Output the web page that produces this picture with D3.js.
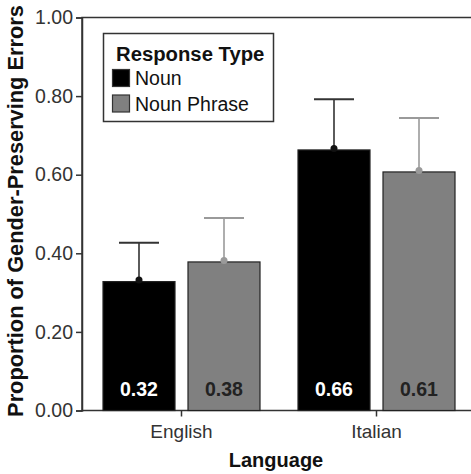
<!DOCTYPE html>
<html>
<head>
<meta charset="utf-8">
<script src="https://cdn.jsdelivr.net/npm/d3@7"></script>
<style>
  body { margin: 0; background: #fff; }
  text { font-family: "Liberation Sans", Arial, sans-serif; }
</style>
</head>
<body>
<div id="root"></div>
<script>
let languages = ['English', 'Italian']
let responseTypes = ['Noun', 'Noun Phrase']
let nounMeans = [0.328, 0.663]
let phraseMeans = [0.378, 0.607]
let nounUpper = [0.427, 0.792]
let phraseUpper = [0.490, 0.744]
let valueLabels = [['0.32', '0.66'], ['0.38', '0.61']]
let yTicks = [0, 0.2, 0.4, 0.6, 0.8, 1.0]

let fills = ['#000000', '#808080']
let errColors = ['#333333', '#9a9a9a']
let labelColors = ['#ffffff', '#222222']

let W = 471, H = 474
let plotLeft = 82, plotTop = 17.5, plotBottom = 410.5

document.getElementById('root').innerHTML = `<svg width=${W} height=${H}></svg>`
let svg = d3.select('svg')

let rows = []
languages.forEach((lang, i) => {
  rows.push({lang, type: responseTypes[0], s: 0, mean: nounMeans[i], up: nounUpper[i], label: valueLabels[0][i]})
  rows.push({lang, type: responseTypes[1], s: 1, mean: phraseMeans[i], up: phraseUpper[i], label: valueLabels[1][i]})
})

let x0 = d3.scaleBand().domain(languages).range([84, 474])
let x1 = d3.scaleBand().domain(responseTypes).range([0, x0.bandwidth()])
           .paddingInner(0.153).paddingOuter(0.2235)
let y = d3.scaleLinear().domain([0, 1]).range([plotBottom, plotTop])

// frame (right edge falls outside the picture)
svg.append('rect')
   .attr('x', plotLeft).attr('y', plotTop)
   .attr('width', 400).attr('height', plotBottom - plotTop)
   .attr('fill', 'none').attr('stroke', '#333').attr('stroke-width', 1.5)

// y axis
let yAxis = svg.append('g')
   .attr('transform', `translate(${plotLeft},0)`)
   .call(d3.axisLeft(y).tickValues(yTicks).tickFormat(d3.format('.2f')).tickSize(6).tickPadding(3))
yAxis.select('.domain').attr('stroke', '#333').attr('stroke-width', 1.5)
yAxis.selectAll('.tick line').attr('stroke', '#333').attr('stroke-width', 1.5)
yAxis.selectAll('.tick text')
   .attr('fill', '#333').style('font-size', '19.5px')
   .style('font-family', '"Liberation Sans", Arial, sans-serif')

// x axis
let xAxis = svg.append('g')
   .attr('transform', `translate(0,${plotBottom})`)
   .call(d3.axisBottom(x0).tickSize(6).tickPadding(8))
xAxis.select('.domain').remove()
xAxis.selectAll('.tick line').attr('stroke', '#333').attr('stroke-width', 1.5)
xAxis.selectAll('.tick text')
   .attr('fill', '#333').style('font-size', '19px')
   .style('font-family', '"Liberation Sans", Arial, sans-serif')

// bars
let bx = d => x0(d.lang) + x1(d.type)
let cx = d => bx(d) + x1.bandwidth() / 2

svg.selectAll('.bar')
   .data(rows).enter()
   .append('rect')
   .attr('class', 'bar')
   .attr('x', bx)
   .attr('y', d => y(d.mean))
   .attr('width', x1.bandwidth())
   .attr('height', d => plotBottom - y(d.mean))
   .attr('fill', d => fills[d.s])
   .attr('stroke', '#222').attr('stroke-width', 1.2)

// error bars
svg.selectAll('.stem')
   .data(rows).enter()
   .append('line')
   .attr('x1', cx).attr('x2', cx)
   .attr('y1', d => y(d.mean)).attr('y2', d => y(d.up))
   .attr('stroke', d => errColors[d.s]).attr('stroke-width', 1.6)

svg.selectAll('.cap')
   .data(rows).enter()
   .append('line')
   .attr('x1', d => cx(d) - 20).attr('x2', d => cx(d) + 20)
   .attr('y1', d => y(d.up)).attr('y2', d => y(d.up))
   .attr('stroke', d => errColors[d.s]).attr('stroke-width', 2)

svg.selectAll('.dot')
   .data(rows).enter()
   .append('circle')
   .attr('cx', cx).attr('cy', d => y(d.mean) - 1.5)
   .attr('r', 3.5)
   .attr('fill', d => d.s ? errColors[1] : '#111')

// value labels
svg.selectAll('.val')
   .data(rows).enter()
   .append('text')
   .attr('x', cx).attr('y', 396)
   .attr('text-anchor', 'middle')
   .attr('fill', d => labelColors[d.s])
   .style('font-size', '19.5px').style('font-weight', 'bold')
   .text(d => d.label)

// axis titles
svg.append('text')
   .attr('transform', `translate(23,${(plotTop + plotBottom) / 2 - 3}) rotate(-90)`)
   .attr('text-anchor', 'middle')
   .attr('fill', '#111')
   .style('font-size', '21.8px').style('font-weight', 'bold')
   .text('Proportion of Gender-Preserving Errors')

svg.append('text')
   .attr('x', 276).attr('y', 467)
   .attr('text-anchor', 'middle')
   .attr('fill', '#111')
   .style('font-size', '20px').style('font-weight', 'bold')
   .text('Language')

// legend
let lg = svg.append('g')
lg.append('rect')
  .attr('x', 103.5).attr('y', 33.5).attr('width', 170).attr('height', 88)
  .attr('fill', '#fff').attr('stroke', '#333').attr('stroke-width', 1.5)
lg.append('text')
  .attr('x', 116).attr('y', 61)
  .attr('fill', '#111')
  .style('font-size', '20.3px').style('font-weight', 'bold')
  .text('Response Type')
let items = lg.selectAll('.item')
  .data(responseTypes).enter()
  .append('g')
  .attr('transform', (d, i) => `translate(0,${i * 25.5})`)
items.append('rect')
  .attr('x', 112.5).attr('y', 69.5).attr('width', 17).attr('height', 17)
  .attr('fill', (d, i) => fills[i]).attr('stroke', '#333').attr('stroke-width', 1.2)
items.append('text')
  .attr('x', 135).attr('y', 85)
  .attr('fill', '#111')
  .style('font-size', '19.5px')
  .text(d => d)
</script>
</body>
</html>
